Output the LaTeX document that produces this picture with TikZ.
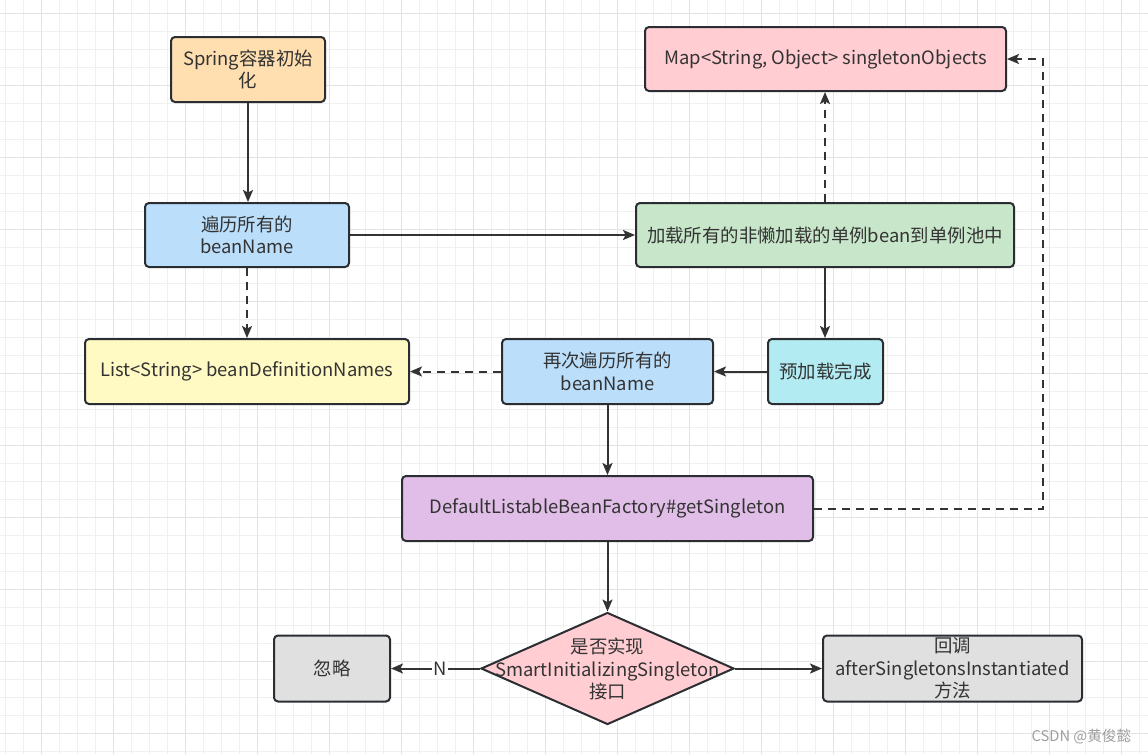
\documentclass[tikz,border=0pt]{standalone}
\usepackage{fontspec}
\setmainfont{Noto Sans CJK SC}
\usetikzlibrary{arrows.meta,shapes.geometric}
\definecolor{cOrange}{HTML}{FFDFB0}
\definecolor{cBlue}{HTML}{BBDEFB}
\definecolor{cGreen}{HTML}{C8E6C9}
\definecolor{cPink}{HTML}{FFCDD2}
\definecolor{cYellow}{HTML}{FFF9C4}
\definecolor{cCyan}{HTML}{B2EBF2}
\definecolor{cPurple}{HTML}{E1BEE7}
\definecolor{cGray}{HTML}{E0E0E0}
\definecolor{cBorder}{HTML}{2A2E33}
\definecolor{cLine}{HTML}{333333}
\definecolor{cText}{HTML}{333333}
\definecolor{gridMinor}{HTML}{F0F0F0}
\definecolor{gridMajor}{HTML}{E3E3E3}
\tikzset{
  txt/.style={text=cText, font=\fontsize{13.8}{17}\selectfont},
  box/.style={draw=cBorder, line width=1.5pt, rounded corners=3pt, inner sep=0pt,
    align=center, txt},
  sz/.style 2 args={minimum width=#1*0.75pt, minimum height=#2*0.75pt},
  dia/.style={diamond, draw=cBorder, line width=1.5pt, inner sep=0pt, fill=cPink},
  lbl/.style={align=center, txt},
  conn/.style={draw=cLine, line width=1.5pt, -{Stealth[length=9pt,width=7.5pt,inset=2pt]}},
  dconn/.style={conn, dash pattern=on 6pt off 4.5pt},
}
\begin{document}
\begin{tikzpicture}[x=0.75pt,y=-0.75pt]
\useasboundingbox (0,0) rectangle (1148,754);
\fill[white] (0,0) rectangle (1148,754);
% grid
\foreach \i in {0,...,64} {
  \pgfmathsetmacro\xx{5.3+18*\i}
  \draw[gridMinor, line width=0.75pt] (\xx,0) -- (\xx,754);
}
\foreach \i in {0,...,42} {
  \pgfmathsetmacro\yy{13.3+18*\i}
  \draw[gridMinor, line width=0.75pt] (0,\yy) -- (1148,\yy);
}
\foreach \i in {-1,...,15} {
  \pgfmathsetmacro\xx{41.3+72*\i}
  \draw[gridMajor, line width=0.75pt] (\xx,0) -- (\xx,754);
}
\foreach \i in {0,...,10} {
  \pgfmathsetmacro\yy{13.3+72*\i}
  \draw[gridMajor, line width=0.75pt] (0,\yy) -- (1148,\yy);
}
% nodes
\node[box, fill=cOrange, sz={154}{65}] (init) at (248,69.5) {Spring容器初始\\化};
\node[box, fill=cBlue, sz={204}{64}] (iter) at (247,235) {遍历所有的\\beanName};
\node[box, fill=cGreen, sz={378}{64}] (load) at (825,235) {加载所有的非懒加载的单例bean到单例池中};
\node[box, fill=cPink, sz={361}{64}] (map) at (825.5,59) {Map<String, Object> singletonObjects};
\node[box, fill=cYellow, sz={324}{65}] (list) at (247,371.5) {List<String> beanDefinitionNames};
\node[box, fill=cBlue, sz={211}{65}] (again) at (607.5,371.5) {再次遍历所有的\\beanName};
\node[box, fill=cCyan, sz={115}{65}] (pre) at (825.5,371.5) {预加载完成};
\node[box, fill=cPurple, sz={411}{65}] (get) at (607.5,508.5) {DefaultListableBeanFactory\#getSingleton};
\node[dia, minimum width=189.75pt, minimum height=84pt] (dec) at (607.5,668.5) {};
\node[lbl] (dectxt) at (607.5,669) {是否实现\\SmartInitializingSingleton\\接口};
\node[box, fill=cGray, sz={116}{66}] (ign) at (332,668.5) {忽略};
\node[box, fill=cGray, sz={259}{66}] (cb) at (952.5,668.5) {回调\\afterSingletonsInstantiated\\方法};
\node[text=black!38, font=\fontsize{11}{13}\selectfont, anchor=east] (wm) at (1136,737) {CSDN @黄俊懿};
% connectors
\draw[conn] (init.south) -- (init.south |- iter.north);
\draw[conn] (iter.east) -- (load.west |- iter.east);
\draw[dconn] (iter.south) -- (iter.south |- list.north);
\draw[dconn] (load.north) -- (load.north |- map.south);
\draw[conn] (load.south) -- (load.south |- pre.north);
\draw[conn] (pre.west) -- (again.east |- pre.west);
\draw[dconn] (again.west) -- (list.east |- again.west);
\draw[conn] (again.south) -- (again.south |- get.north);
\coordinate (turn) at (1043,508.5);
\draw[dconn] (get.east) -- (turn) |- (map.east);
\draw[conn] (get.south) -- (dec.north);
\draw[conn] (dec.west) -- node[pos=0.45, fill=white, inner sep=1pt, txt] (nlab) {N} (ign.east);
\draw[conn] (dec.east) -- (cb.west);
\end{tikzpicture}
\end{document}
